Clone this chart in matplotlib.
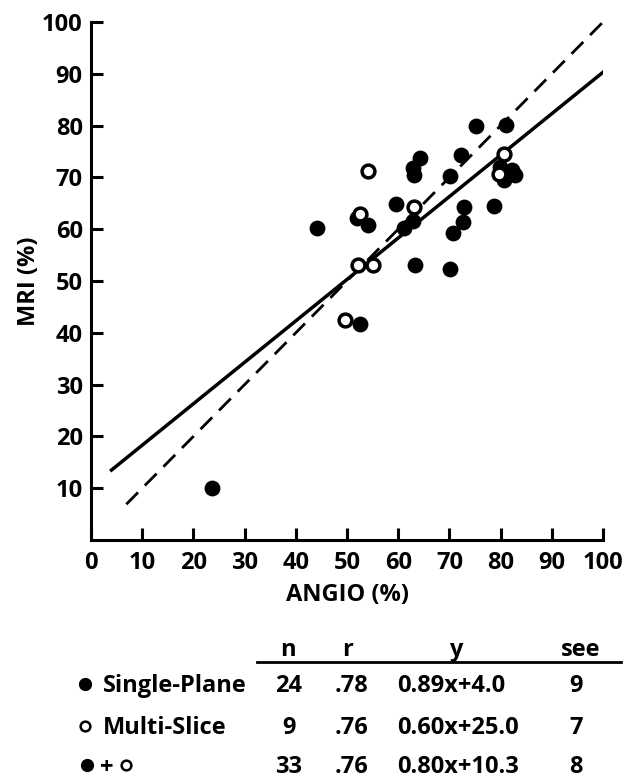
import matplotlib.pyplot as plt

# 数据
single_x = [23.7, 44.2, 52.6, 52.0, 54.1, 59.5, 61.2, 62.8, 62.8, 63.0, 64.2, 63.2, 70.1,
            70.2, 70.8, 72.6, 72.8, 72.2, 75.1, 78.7, 81.0, 80.6, 82.2, 82.8, 79.8]
single_y = [10.0, 60.2, 41.7, 62.2, 60.8, 64.9, 60.2, 61.5, 71.8, 70.5, 73.7, 53.1, 52.3,
            70.3, 59.2, 61.4, 64.2, 74.3, 79.9, 64.5, 80.1, 69.5, 71.5, 70.5, 72.0]
multi_x = [49.7, 52.1, 55.0, 52.6, 54.1, 63.1, 80.7, 79.6]
multi_y = [42.5, 53.1, 53.1, 62.9, 71.2, 64.3, 74.6, 70.7]

# 回归线 (●+○) 与 恒等线
fit_slope, fit_icpt = 0.80, 10.3
fit_x = [4.0, 100]
ident_x = [6.9, 100]

ticks = list(range(0, 101, 10))

# 表格
rows = ['Single-Plane', 'Multi-Slice', '+']
n_vals = ['24', '9', '33']
r_vals = ['.78', '.76', '.76']
eq_vals = ['0.89x+4.0', '0.60x+25.0', '0.80x+10.3']
see_vals = ['9', '7', '8']

plt.rcParams['font.family'] = ['Open Sans', 'DejaVu Sans']
fig = plt.figure(figsize=(6.34, 7.82), dpi=100)
W, H = 634, 782
ax = fig.add_axes([91 / W, 1 - 540 / H, 512 / W, 518 / H])

ax.plot(fit_x, [fit_slope * v + fit_icpt for v in fit_x], color='black', lw=2.5, zorder=2)
ax.plot(ident_x, ident_x, color='black', lw=2.0, dashes=(6, 3.5), zorder=2)
ax.scatter(single_x, single_y, s=130, color='black', zorder=3, linewidths=0)
ax.scatter(multi_x, multi_y, s=85, facecolor='white', edgecolor='black', linewidths=2.5, zorder=4)

ax.set_xlim(0, 100)
ax.set_ylim(0, 100)
ax.set_xticks(ticks)
ax.set_yticks(ticks[1:])
ax.set_xticklabels([str(t) for t in ticks])
ax.set_yticklabels([str(t) for t in ticks[1:]])
for s in ['top', 'right']:
    ax.spines[s].set_visible(False)
for s in ['left', 'bottom']:
    ax.spines[s].set_linewidth(2.2)
ax.tick_params(direction='in', length=8.5, width=2.2, labelsize=17, pad=6)
ax.tick_params(axis='x', pad=8)
for lab in ax.get_xticklabels() + ax.get_yticklabels():
    lab.set_fontweight('bold')
ax.set_xlabel('ANGIO (%)', fontsize=17, fontweight='bold', labelpad=6)
ax.set_ylabel('MRI (%)', fontsize=17, fontweight='bold', labelpad=1)
for c in ax.collections:
    c.set_clip_on(False)

def fy(p):
    return 1 - p / H

def fx(p):
    return p / W

kw = dict(fontsize=17, fontweight='bold', va='center')
hdr_y = 650
fig.text(fx(288), fy(hdr_y), 'n', ha='center', **kw)
fig.text(fx(348), fy(hdr_y), 'r', ha='center', **kw)
fig.text(fx(456), fy(hdr_y), 'y', ha='center', **kw)
fig.text(fx(581), fy(hdr_y), 'see', ha='center', **kw)
fig.add_artist(plt.Line2D([fx(257), fx(621)], [fy(662), fy(662)], color='black', lw=2.0))

row_y = [686, 728, 767]
for i in range(3):
    y = fy(row_y[i])
    ym = fy(row_y[i] - 2)
    if i == 0:
        fig.add_artist(plt.Line2D([fx(85)], [ym], marker='o', ms=8.5, color='black'))
    elif i == 1:
        fig.add_artist(plt.Line2D([fx(85)], [ym], marker='o', ms=7, mfc='white', mec='black', mew=1.8))
    else:
        fig.add_artist(plt.Line2D([fx(87)], [ym], marker='o', ms=8.5, color='black'))
        fig.add_artist(plt.Line2D([fx(126)], [ym], marker='o', ms=7, mfc='white', mec='black', mew=1.8))
    if i < 2:
        fig.text(fx(103), y, rows[i], ha='left', **kw)
    else:
        fig.text(fx(107), fy(row_y[i] - 2), rows[i], ha='center', va='center_baseline',
                 fontsize=17, fontweight='bold')
    fig.text(fx(289), y, n_vals[i], ha='center', **kw)
    fig.text(fx(351), y, r_vals[i], ha='center', **kw)
    fig.text(fx(397), y, eq_vals[i], ha='left', **kw)
    fig.text(fx(576), y, see_vals[i], ha='center', **kw)

fig.savefig('out.png', dpi=100)
